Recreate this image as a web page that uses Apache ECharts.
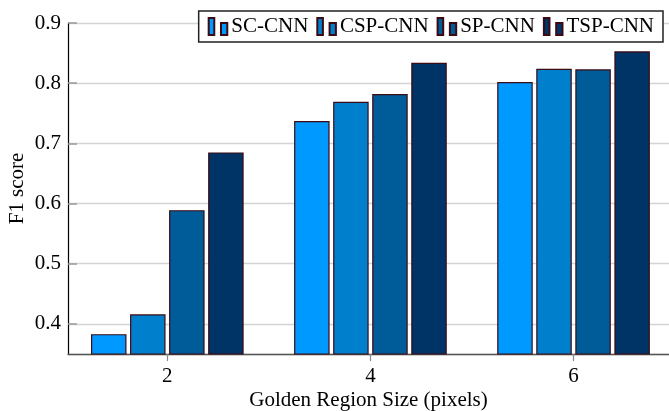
<!DOCTYPE html>
<html>
<head>
<meta charset="utf-8">
<script src="https://cdn.jsdelivr.net/npm/echarts@6/dist/echarts.min.js"></script>
<style>
  html, body { margin: 0; padding: 0; background: #fff; }
  #chart { width: 669px; height: 411px; }
</style>
</head>
<body>
<div id="chart"></div>
<script>
// Golden region sizes (pixels) on the x axis
const regionSizes = [2, 4, 6];
const xTicks = [2, 4, 6];

// F1 score for each model at each region size
const scCnn  = [0.383, 0.737, 0.802];
const cspCnn = [0.416, 0.769, 0.824];
const spCnn  = [0.589, 0.782, 0.823];
const tspCnn = [0.685, 0.834, 0.853];

const seriesNames = ['SC-CNN', 'CSP-CNN', 'SP-CNN', 'TSP-CNN'];
const seriesValues = [scCnn, cspCnn, spCnn, tspCnn];
const seriesColors = ['#0099ff', '#0080cc', '#005b99', '#003366'];

const serif = 'Liberation Serif';
const fontSize = 21;
const barBorder = '#3c0a12';
// two-bar glyph used as legend marker
const legendIcon = 'path://M0,0H5.6V17H0Z M12.3,5H18.6V17H12.3Z';

const chart = echarts.init(document.getElementById('chart'), null, { renderer: 'canvas' });

chart.setOption({
  animation: false,
  backgroundColor: '#ffffff',
  textStyle: { fontFamily: serif, color: '#000' },
  grid: { left: 68, right: 0, top: 23, bottom: 57, containLabel: false, outerBoundsMode: 'none' },
  legend: {
    data: seriesNames.map(n => ({ name: n, icon: legendIcon })),
    right: 6,
    top: 11,
    orient: 'horizontal',
    itemWidth: 18.6,
    itemHeight: 17,
    itemGap: 8,
    padding: [5, 9, 5, 9],
    borderColor: '#222',
    borderWidth: 1.5,
    backgroundColor: '#fff',
    textStyle: { fontFamily: serif, fontSize: fontSize, color: '#000', padding: [0, 0, 0, -1] }
  },
  xAxis: {
    type: 'value',
    min: 1.022,
    max: 6.94,
    name: 'Golden Region Size (pixels)',
    nameLocation: 'middle',
    nameGap: 36,
    nameMoveOverlap: false,
    nameTextStyle: { fontFamily: serif, fontSize: fontSize, color: '#000' },
    axisLine: { show: true, onZero: false, lineStyle: { color: '#555', width: 1.3 } },
    axisTick: { show: true, inside: false, length: 7, customValues: xTicks, lineStyle: { color: '#888', width: 1.2 } },
    axisLabel: { customValues: xTicks, fontFamily: serif, fontSize: fontSize, color: '#000', margin: 12 },
    splitLine: { show: false }
  },
  yAxis: {
    type: 'value',
    min: 0.35,
    max: 0.9,
    splitNumber: 5,
    name: 'F1 score',
    nameLocation: 'middle',
    nameGap: 40,
    nameMoveOverlap: false,
    nameTextStyle: { fontFamily: serif, fontSize: fontSize, color: '#000' },
    axisLine: { show: true, lineStyle: { color: '#000', width: 1.2 } },
    axisTick: { show: true, inside: true, length: 9, lineStyle: { color: '#999', width: 1.5 } },
    axisLabel: {
      showMinLabel: false,
      fontFamily: serif, fontSize: fontSize, color: '#000', margin: 7,
      formatter: v => v.toFixed(1)
    },
    splitLine: { show: true, lineStyle: { color: '#d4d4d4', width: 1.3 } }
  },
  series: seriesNames.map((name, i) => ({
    name: name,
    type: 'bar',
    barWidth: 35.5,
    barGap: '10%',
    data: regionSizes.map((x, j) => [x, seriesValues[i][j]]),
    itemStyle: { color: seriesColors[i], borderColor: barBorder, borderWidth: 1.2 },
    emphasis: { disabled: true }
  }))
});
</script>
</body>
</html>
